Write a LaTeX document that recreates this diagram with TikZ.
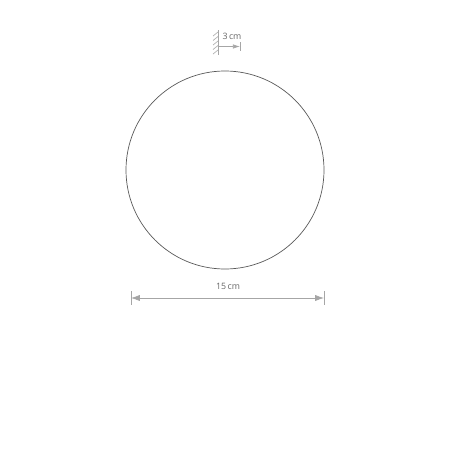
\documentclass[tikz,border=0pt]{standalone}
\usepackage{fontspec}
\setmainfont{Open Sans}
\usetikzlibrary{arrows.meta}

\begin{document}
\begin{tikzpicture}[x=0.02cm,y=-0.02cm,
    dim/.style={draw=black!35,line width=0.4pt},
    dimlabel/.style={font=\fontsize{5}{6}\selectfont,text=black!60,inner sep=1pt}]
      \useasboundingbox (0,0) rectangle (450,450);
      % wall with depth
      \draw [dim] (218,30) -- (218,55);
      \foreach \y in {32,36.5,...,52}
        \draw [dim,black!30] (218,\y) -- (213,\y+4);
      \coordinate (wall) at (218,46.5);
      \coordinate (depth) at (240,46.5);
      \draw [dim,-{Latex[length=4pt,width=2.5pt]}] (wall) -- (depth);
      \draw [dim] (240,42) -- (240,51);
      \node [dimlabel] (d) at (232,36) {3\,cm};
      % lamp
      \draw [black!65,line width=0.4pt] (225,170) circle [radius=99];
      % diameter
      \coordinate (l) at (131,298);
      \coordinate (r) at (324,298);
      \draw [dim,{Latex[length=5pt,width=3.5pt]}-{Latex[length=5pt,width=3.5pt]}] (l) -- (r);
      \draw [dim] (131,291) -- (131,305);
      \draw [dim] (324,291) -- (324,305);
      \node [dimlabel] (w) at (228,286) {15\,cm};
    \end{tikzpicture}
\end{document}
